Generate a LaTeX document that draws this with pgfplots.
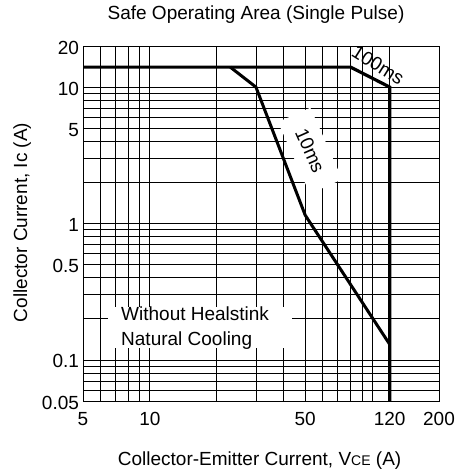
\documentclass[border=0pt]{standalone}
\usepackage{fontspec}
\setmainfont{Liberation Sans}
\usepackage{pgfplots}
\pgfplotsset{compat=1.18}
\begin{document}
\fontsize{19bp}{23bp}\selectfont
\begin{tikzpicture}
\begin{axis}[
  at={(0,0)}, anchor=south west,
  scale only axis, width=356bp, height=355bp,
  xmode=log, ymode=log,
  xmin=5, xmax=200, ymin=0.05, ymax=20,
  xtick={5,10,50,120,200}, xticklabels={5,10,50,120,200},
  minor xtick={6,7,8,9,20,30,40,60,70,80,90,100},
  ytick={0.05,0.1,0.5,1,5,10,20}, yticklabels={0.05,0.1,0.5,1,5,10,20},
  minor ytick={0.06,0.07,0.08,0.09,0.2,0.3,0.4,0.6,0.7,0.8,0.9,2,3,4,6,7,8,9},
  grid=both,
  major grid style={black, line width=0.8bp},
  minor grid style={black, line width=0.8bp},
  major tick length=0pt, minor tick length=0pt,
  axis line style={black, line width=0.8bp},
  xticklabel style={yshift=-4.5bp},
  yticklabel style={xshift=2.5bp, yshift=-1.5bp},
  title={Safe Operating Area (Single Pulse)},
  title style={at={(0.486,1.0592)}, anchor=base},
  xlabel={Collector-Emitter Current, V{\fontsize{14bp}{14bp}\selectfont CE} (A)},
  xlabel style={at={(0.496,-0.1817)}, anchor=base},
  ylabel={Collector Current, Ic (A)},
  ylabel style={at={(-0.1573,0.503)}, anchor=base},
  clip=false,
]
% white masks behind the annotations
\fill[white] (rel axis cs:0.0702,0.1479) rectangle (rel axis cs:0.5871,0.2648);
\node[anchor=base west, inner sep=0pt] at (rel axis cs:0.1067,0.2268) {Without Healstink};
\node[anchor=base west, inner sep=0pt] at (rel axis cs:0.1067,0.1563) {Natural Cooling};
\node[fill=white, rotate=-66, inner xsep=16bp, inner ysep=11bp] at (rel axis cs:0.638,0.705) {10ms};
\node[rotate=-32, inner sep=0pt] at (rel axis cs:0.829,0.946) {100ms};
% 100 ms boundary
\addplot[black, line width=3.2bp] coordinates {(5,14) (80,14) (120,10) (120,0.05)};
% 10 ms boundary
\addplot[black, line width=3bp] coordinates {(23,14) (30,10) (50,1.15) (120,0.13)};
\end{axis}
\pgfresetboundingbox
\useasboundingbox (-83bp,-73bp) rectangle (375bp,401bp);
\end{tikzpicture}
\end{document}
